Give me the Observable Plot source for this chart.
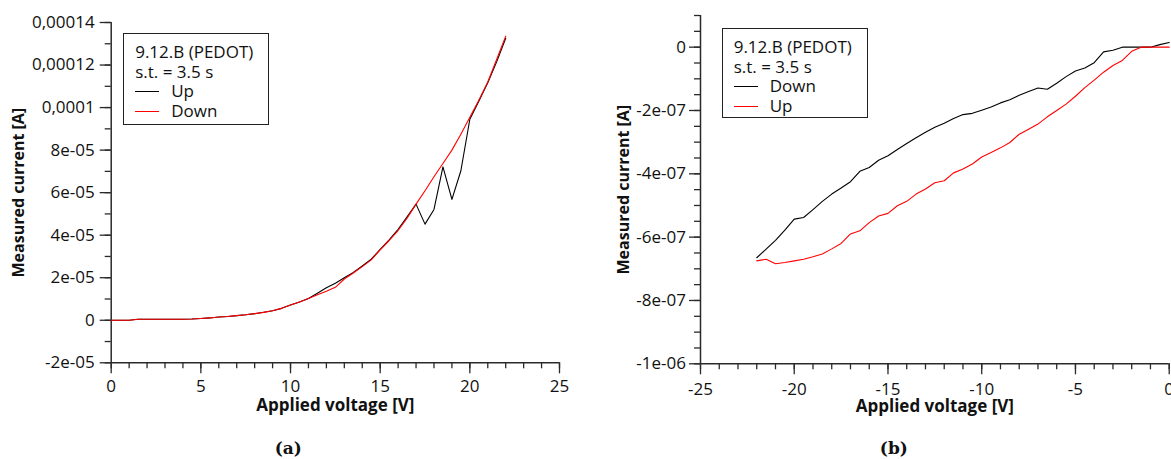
<!DOCTYPE html>
<html>
<head>
<meta charset="utf-8">
<script src="https://cdn.jsdelivr.net/npm/d3@7"></script>
<script src="https://cdn.jsdelivr.net/npm/@observablehq/plot@0.6"></script>
<style>
  html, body { margin: 0; padding: 0; background: #fff; }
  body { width: 1171px; height: 459px; overflow: hidden; position: relative; font-family: "Open Sans", sans-serif; }
  .panel { position: absolute; top: 0; }
  .panel svg { max-width: none; overflow: visible; }
  .legend { position: absolute; box-sizing: border-box; border: 1px solid #222; background: #fff;
            font-family: "Open Sans", sans-serif; font-size: 17px; color: #111; }
  .legend .row { height: 19.6px; line-height: 19.6px; white-space: nowrap; position: relative; }
  .legend .sw { position: absolute; left: 0; top: 9.5px; width: 24px; height: 0; border-top: 1.4px solid; }
  .legend .lab { position: absolute; left: 36px; }
</style>
</head>
<body>
<div id="pa" class="panel" style="left:0px"></div>
<div id="pb" class="panel" style="left:600px"></div>
<script>
// ---------- Panel (a) data ----------
const voltageA = [0,0.5,1,1.5,2,2.5,3,3.5,4,4.5,5,5.5,6,6.5,7,7.5,8,8.5,9,9.5,10,10.5,11,11.5,12,12.5,13,13.5,14,14.5,15,15.5,16,16.5,17,17.5,18,18.5,19,19.5,20,20.5,21,21.5,22];
const upA = [0,0,0,5e-7,5e-7,5e-7,5e-7,5e-7,5e-7,6e-7,8e-7,1.1e-6,1.5e-6,1.8e-6,2.2e-6,2.6e-6,3.1e-6,3.8e-6,4.5e-6,5.6e-6,7.2e-6,8.6e-6,1.02e-5,1.27e-5,1.53e-5,1.74e-5,2.0e-5,2.25e-5,2.55e-5,2.87e-5,3.33e-5,3.78e-5,4.28e-5,4.86e-5,5.46e-5,4.52e-5,5.21e-5,7.21e-5,5.68e-5,7.03e-5,9.45e-5,1.03e-4,1.117e-4,1.216e-4,1.326e-4];
const downA = [0,0,0,5e-7,5e-7,5e-7,5e-7,5e-7,5e-7,6e-7,8e-7,1.1e-6,1.5e-6,1.8e-6,2.2e-6,2.6e-6,3.1e-6,3.7e-6,4.5e-6,5.6e-6,7.2e-6,8.6e-6,1.02e-5,1.2e-5,1.36e-5,1.55e-5,1.94e-5,2.22e-5,2.52e-5,2.84e-5,3.31e-5,3.75e-5,4.22e-5,4.8e-5,5.46e-5,6.09e-5,6.75e-5,7.37e-5,8.0e-5,8.75e-5,9.54e-5,1.035e-4,1.12e-4,1.227e-4,1.336e-4];
const seriesA = ["Up", "Down"];
const colorsA = ["#000000", "#ff0000"];
const xTicksA = [0, 5, 10, 15, 20, 25];
const yTicksA = [-2e-5, 0, 2e-5, 4e-5, 6e-5, 8e-5, 1e-4, 1.2e-4, 1.4e-4];
const yTickLabelsA = ["-2e-05", "0", "2e-05", "4e-05", "6e-05", "8e-05", "0,0001", "0,00012", "0,00014"];

// ---------- Panel (b) data ----------
const voltageB = [-22,-21.5,-21,-20.5,-20,-19.5,-19,-18.5,-18,-17.5,-17,-16.5,-16,-15.5,-15,-14.5,-14,-13.5,-13,-12.5,-12,-11.5,-11,-10.5,-10,-9.5,-9,-8.5,-8,-7.5,-7,-6.5,-6,-5.5,-5,-4.5,-4,-3.5,-3,-2.5,-2,-1.5,-1,-0.5,0];
const downB = [-6.65e-7,-6.38e-7,-6.10e-7,-5.78e-7,-5.43e-7,-5.38e-7,-5.13e-7,-4.87e-7,-4.64e-7,-4.45e-7,-4.25e-7,-3.92e-7,-3.80e-7,-3.57e-7,-3.43e-7,-3.23e-7,-3.04e-7,-2.86e-7,-2.69e-7,-2.53e-7,-2.40e-7,-2.25e-7,-2.13e-7,-2.09e-7,-1.99e-7,-1.89e-7,-1.76e-7,-1.66e-7,-1.52e-7,-1.40e-7,-1.29e-7,-1.33e-7,-1.14e-7,-0.93e-7,-0.75e-7,-0.66e-7,-0.49e-7,-0.15e-7,-0.10e-7,0,0,0,0,0.08e-7,0.15e-7];
const upB = [-6.75e-7,-6.70e-7,-6.84e-7,-6.80e-7,-6.75e-7,-6.70e-7,-6.62e-7,-6.53e-7,-6.37e-7,-6.20e-7,-5.90e-7,-5.80e-7,-5.54e-7,-5.33e-7,-5.25e-7,-5.01e-7,-4.87e-7,-4.64e-7,-4.48e-7,-4.28e-7,-4.22e-7,-3.97e-7,-3.85e-7,-3.69e-7,-3.47e-7,-3.33e-7,-3.18e-7,-3.01e-7,-2.75e-7,-2.59e-7,-2.43e-7,-2.20e-7,-2.00e-7,-1.80e-7,-1.55e-7,-1.28e-7,-1.04e-7,-0.79e-7,-0.58e-7,-0.42e-7,-0.13e-7,0,0,0,0];
const seriesB = ["Down", "Up"];
const colorsB = ["#000000", "#ff0000"];
const xTicksB = [-25, -20, -15, -10, -5, 0];
const yTicksB = [-1e-6, -8e-7, -6e-7, -4e-7, -2e-7, 0];
const yTickLabelsB = ["-1e-06", "-8e-07", "-6e-07", "-4e-07", "-2e-07", "0"];

const legendTitle = ["9.12.B (PEDOT)", "s.t. = 3.5 s"];
const xTitle = "Applied voltage [V]";
const yTitle = "Measured current [A]";
const captions = ["(a)", "(b)"];

const AXC = "#2a2a2a";

function panel({voltage, s1, s2, series, colors, xDomain, yDomain, xTicks, xMinor, yTicks, yLabels, yMinor,
                width, height, margins, font, yTickPad, xTickPad, yTitleDx, xTitleDy, capDx, capDy, caption}) {
  const data = [
    ...voltage.map((v, i) => ({v, c: s1[i], s: series[0]})),
    ...voltage.map((v, i) => ({v, c: s2[i], s: series[1]}))
  ];
  const fmt = d => { const k = yTicks.findIndex(t => Math.abs(t - d) < 1e-12); return k >= 0 ? yLabels[k] : ""; };
  return Plot.plot({
    width, height,
    marginLeft: margins[0], marginRight: margins[1], marginTop: margins[2], marginBottom: margins[3],
    style: {fontFamily: "Open Sans, sans-serif", fontSize: font + "px", color: "#111", overflow: "visible", maxWidth: "none"},
    x: {domain: xDomain},
    y: {domain: yDomain},
    color: {domain: series, range: colors},
    marks: [
      Plot.axisY(yMinor, {tickSize: 6, tickFormat: () => "", label: null, stroke: AXC, strokeWidth: 1.3}),
      Plot.axisY(yTicks, {tickSize: 11, tickPadding: yTickPad, tickFormat: fmt, label: null, stroke: AXC, strokeWidth: 1.3, fontSize: font, fill: "#111"}),
      Plot.axisX(xMinor, {tickSize: 6, tickFormat: () => "", label: null, stroke: AXC, strokeWidth: 1.3}),
      Plot.axisX(xTicks, {tickSize: 11, tickPadding: xTickPad, label: null, stroke: AXC, strokeWidth: 1.3, fontSize: font, fill: "#111",
                          tickFormat: d => String(d)}),
      Plot.ruleX([xDomain[0]], {stroke: AXC, strokeWidth: 1.5}),
      Plot.ruleY([yDomain[0]], {stroke: AXC, strokeWidth: 1.5}),
      Plot.line(data, {x: "v", y: "c", z: "s", stroke: "s", strokeWidth: 1.1}),
      Plot.text([xTitle], {text: d => d, frameAnchor: "bottom", dy: xTitleDy, textAnchor: "middle", lineAnchor: "middle",
                           fontWeight: "bold", fontSize: 17, fill: "#111"}),
      Plot.text([yTitle], {text: d => d, frameAnchor: "left", dx: yTitleDx, rotate: -90, textAnchor: "middle", lineAnchor: "middle",
                           fontWeight: "bold", fontSize: 16, fill: "#111"}),
      Plot.text([caption], {text: d => d, frameAnchor: "bottom", dy: capDy, dx: capDx, textAnchor: "middle", lineAnchor: "middle",
                            fontWeight: "bold", fontSize: 17, fontFamily: "DejaVu Serif, serif", fill: "#111"})
    ]
  });
}

const chartA = panel({
  voltage: voltageA, s1: upA, s2: downA, series: seriesA, colors: colorsA,
  xDomain: [0, 25], yDomain: [-2e-5, 1.4e-4],
  xTicks: xTicksA, xMinor: d3.range(0, 26, 1),
  yTicks: yTicksA, yLabels: yTickLabelsA, yMinor: d3.range(-2e-5, 1.4e-4 + 1e-9, 1e-5),
  width: 600, height: 459, margins: [110.7, 41, 22, 96.7], font: 17,
  yTickPad: 5.5, xTickPad: 6.5, yTitleDx: -92, xTitleDy: 43, capDx: -47, capDy: 85.5, caption: captions[0]
});
document.getElementById("pa").appendChild(chartA);

const chartB = panel({
  voltage: voltageB, s1: downB, s2: upB, series: seriesB, colors: colorsB,
  xDomain: [-25, 0], yDomain: [-1e-6, 1e-7],
  xTicks: xTicksB, xMinor: d3.range(-25, 1, 1),
  yTicks: yTicksB, yLabels: yTickLabelsB, yMinor: d3.range(-1e-6, 1e-7 + 1e-12, 5e-8),
  width: 571, height: 459, margins: [100, 2.3, 15, 95.7], font: 17,
  yTickPad: 3.5, xTickPad: 8.5, yTitleDx: -76.5, xTitleDy: 43, capDx: -41, capDy: 84.5, caption: captions[1]
});
document.getElementById("pb").appendChild(chartB);

function legend(left, top, w, h, padTop, padLeft, series, colors) {
  const div = document.createElement("div");
  div.className = "legend";
  Object.assign(div.style, {left: left + "px", top: top + "px", width: w + "px", height: h + "px",
                            paddingTop: padTop + "px", paddingLeft: padLeft + "px"});
  legendTitle.forEach(t => {
    const r = document.createElement("div"); r.className = "row"; r.textContent = t; div.appendChild(r);
  });
  series.forEach((s, i) => {
    const r = document.createElement("div"); r.className = "row";
    const sw = document.createElement("span"); sw.className = "sw"; sw.style.borderTopColor = colors[i];
    const lab = document.createElement("span"); lab.className = "lab"; lab.textContent = s;
    r.appendChild(sw); r.appendChild(lab); div.appendChild(r);
  });
  document.body.appendChild(div);
}
legend(122.7, 33.3, 146, 92, 8, 11.5, seriesA, colorsA);
legend(721.7, 28.3, 146, 90, 8, 11, seriesB, colorsB);
</script>
</body>
</html>
